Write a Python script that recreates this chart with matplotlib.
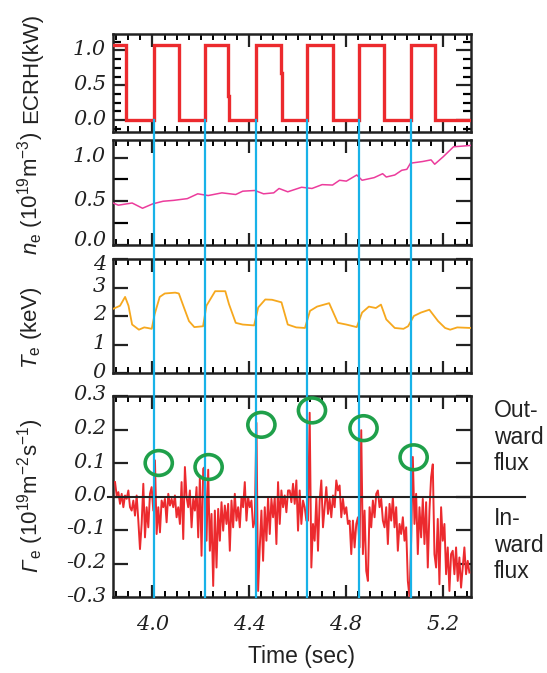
import numpy as np
import matplotlib
matplotlib.use("Agg")
import matplotlib.pyplot as plt
from matplotlib.ticker import MultipleLocator, FormatStrFormatter
from matplotlib.patches import Ellipse
from matplotlib.transforms import blended_transform_factory, ScaledTranslation

plt.rcParams['axes.unicode_minus'] = False
plt.rcParams['mathtext.fontset'] = 'custom'
plt.rcParams['mathtext.rm'] = 'Liberation Sans'
plt.rcParams['mathtext.it'] = 'Liberation Sans:italic'
plt.rcParams['mathtext.bf'] = 'Liberation Sans:bold'

# ---------------- data ----------------
ecrh_time = [3.837, 3.892, 3.892, 4.005, 4.005, 4.108, 4.108, 4.216, 4.216, 4.314,
             4.314, 4.318, 4.318, 4.428, 4.428, 4.532, 4.532, 4.535, 4.535, 4.640,
             4.640, 4.745, 4.745, 4.855, 4.855, 4.957, 4.957, 5.067, 5.067, 5.167,
             5.167, 5.316]
ecrh_power = [1.08, 1.08, 0, 0, 1.08, 1.08, 0, 0, 1.08, 1.08,
              0.35, 0.35, 0, 0, 1.08, 1.08, 0.68, 0.68, 0, 0,
              1.08, 1.08, 0, 0, 1.08, 1.08, 0, 0, 1.08, 1.08,
              0, 0]

ne_time = [3.837, 3.859, 3.916, 3.959, 4.001, 4.044, 4.087, 4.144, 4.187, 4.230,
           4.287, 4.344, 4.373, 4.423, 4.459, 4.501, 4.523, 4.559, 4.616, 4.659,
           4.701, 4.744, 4.773, 4.801, 4.844, 4.866, 4.916, 4.951, 4.966, 5.001,
           5.030, 5.051, 5.066, 5.116, 5.151, 5.166, 5.201, 5.244, 5.266, 5.315]
ne_value = [0.48, 0.455, 0.48, 0.42, 0.47, 0.50, 0.51, 0.53, 0.585, 0.565,
            0.596, 0.577, 0.615, 0.623, 0.585, 0.596, 0.646, 0.608, 0.66, 0.646,
            0.69, 0.685, 0.74, 0.73, 0.80, 0.74, 0.77, 0.815, 0.777, 0.80,
            0.854, 0.865, 0.935, 0.954, 0.973, 0.923, 1.008, 1.123, 1.127, 1.138]

te_time = [3.837, 3.866, 3.887, 3.901, 3.916, 3.944, 3.966, 3.980, 3.997, 4.009,
           4.030, 4.051, 4.094, 4.109, 4.130, 4.151, 4.173, 4.209, 4.223, 4.259,
           4.301, 4.316, 4.344, 4.373, 4.420, 4.437, 4.466, 4.494, 4.533, 4.559,
           4.594, 4.630, 4.651, 4.680, 4.730, 4.766, 4.801, 4.844, 4.866, 4.894,
           4.923, 4.944, 4.966, 5.001, 5.037, 5.056, 5.080, 5.109, 5.144, 5.180,
           5.209, 5.230, 5.259, 5.315]
te_value = [2.25, 2.36, 2.67, 2.36, 1.70, 1.52, 1.60, 1.58, 1.55, 2.06,
            2.67, 2.79, 2.82, 2.79, 2.30, 1.82, 1.61, 1.64, 2.36, 2.87,
            2.87, 2.42, 1.76, 1.70, 1.67, 2.30, 2.58, 2.57, 2.48, 1.70,
            1.60, 1.58, 2.18, 2.33, 2.45, 1.76, 1.70, 1.61, 2.12, 2.33,
            2.28, 2.40, 1.88, 1.58, 1.55, 1.64, 2.00, 2.12, 2.22, 1.82,
            1.58, 1.52, 1.60, 1.58]

gamma_start, gamma_end = 3.8454, 5.3093
gamma_value = [
    0.043, 0.003, 0.013, -0.022, 0.008, -0.032, 0.003, -0.007, 0.018, -0.032,
    -0.042, -0.012, -0.057, 0.003, -0.072, -0.157, -0.082, 0.038, -0.122, -0.032,
    -0.092, 0.008, 0.028, -0.042, 0.108, -0.112, -0.032, -0.107, -0.012, -0.032,
    -0.007, -0.077, 0.008, -0.027, -0.007, -0.032, 0.003, -0.062, -0.032, -0.082,
    0.043, -0.127, 0.088, -0.002, -0.032, 0.018, -0.092, -0.007, -0.042, 0.028,
    -0.122, 0.058, -0.177, 0.083, 0.088, -0.132, 0.080, -0.162, -0.052, -0.267,
    -0.042, -0.212, -0.037, -0.132, -0.017, -0.102, -0.027, -0.082, -0.022, -0.162,
    -0.012, -0.092, 0.008, -0.072, -0.032, -0.092, -0.002, -0.032, 0.043, -0.072,
    -0.002, -0.032, -0.012, -0.092, -0.072, 0.220, -0.282, -0.152, -0.042, -0.192,
    -0.032, -0.132, -0.002, -0.112, -0.007, -0.062, -0.002, -0.142, 0.043, -0.082,
    0.018, -0.032, 0.003, -0.047, 0.018,
    0.018, -0.017, 0.038, -0.022, 0.048, -0.102, 0.018, -0.082, -0.012, -0.032,
    -0.072, -0.072, 0.250, -0.212, -0.082, -0.132, -0.002, -0.162, -0.012, 0.048,
    -0.092, -0.032, 0.028, -0.052, -0.007, -0.062, 0.003, -0.032, 0.048, 0.018,
    0.033, -0.062, -0.007, -0.052, -0.032, -0.082, -0.072, -0.172, -0.072, -0.152,
    -0.082, -0.062, -0.152, 0.198, -0.172, -0.042, -0.222, -0.252, -0.032, -0.092,
    -0.012, -0.062, 0.008, 0.018, -0.032, -0.007, -0.072, -0.092, -0.032, -0.142,
    -0.022, -0.072, -0.002, -0.092, -0.032, -0.162, -0.082, -0.112, -0.062, -0.132,
    -0.092, -0.252, -0.300, -0.132, 0.118, -0.082, 0.008, -0.172, -0.032, -0.122,
    -0.007, -0.142, -0.017, -0.212, -0.042, 0.058, 0.096, -0.172, -0.212, -0.067,
    -0.262, -0.032, -0.132, -0.082, -0.232, -0.152, -0.282, -0.172, -0.162, -0.232,
    -0.152, -0.252, -0.182, -0.272, -0.212, -0.152, -0.232, -0.192, -0.227]
gamma_time = np.linspace(gamma_start, gamma_end, len(gamma_value))

marker_times = [4.005, 4.216, 4.428, 4.640, 4.855, 5.067]
circle_time = [4.026, 4.232, 4.450, 4.659, 4.872, 5.079]
circle_value = [0.100, 0.088, 0.214, 0.257, 0.204, 0.117]

xlim = (3.837, 5.316)
xticks_major = 0.4
xticks_minor = 0.05

# ---------------- style ----------------
RED = '#EC2A2E'
PINK = '#EC3C9C'
ORANGE = '#F6A81E'
BLUE = '#18B2E8'
GREEN = '#1FA04A'
INK = '#222222'

W, H = 547, 673
fig = plt.figure(figsize=(W / 100, H / 100), dpi=100)

def axpos(top, bottom, left=113, right=471):
    return [left / W, 1 - bottom / H, (right - left) / W, (bottom - top) / H]

ax1 = fig.add_axes(axpos(34, 132))
ax2 = fig.add_axes(axpos(140, 245))
ax3 = fig.add_axes(axpos(259, 373))
ax4 = fig.add_axes(axpos(396, 597))
axes = [ax1, ax2, ax3, ax4]

for ax in axes:
    ax.set_xlim(*xlim)
    ax.xaxis.set_major_locator(MultipleLocator(xticks_major))
    ax.xaxis.set_minor_locator(MultipleLocator(xticks_minor))
    ax.tick_params(axis='x', which='major', direction='in', top=True, bottom=True,
                   length=9, width=1.6, pad=13)
    ax.tick_params(axis='x', which='minor', direction='in', top=True, bottom=True,
                   length=4.5, width=1.4)
    ax.tick_params(axis='y', which='both', direction='in', left=True, right=True,
                   width=1.6, pad=5)
    ax.tick_params(axis='y', which='major', length=11)
    for s in ax.spines.values():
        s.set_linewidth(1.8)
        s.set_color(INK)
    ax.tick_params(colors=INK)
    if ax is not ax4:
        ax.tick_params(axis='x', labelbottom=False)

# Panel 1: ECRH
ax1.plot(ecrh_time, ecrh_power, color=RED, lw=2.4, solid_joinstyle='miter', zorder=3)
ax1.set_ylim(-0.17, 1.235)
ax1.yaxis.set_major_locator(MultipleLocator(0.5))
ax1.yaxis.set_minor_locator(MultipleLocator(0.125))
ax1.tick_params(axis='y', which='minor', length=5.5)
ax1.yaxis.set_major_formatter(FormatStrFormatter('%.1f'))

# Panel 2: density
ax2.plot(ne_time, ne_value, color=PINK, lw=1.1, zorder=3)
ax2.set_ylim(0, 1.2)
ax2.yaxis.set_major_locator(MultipleLocator(0.5))
ax2.yaxis.set_minor_locator(MultipleLocator(0.25))
ax2.tick_params(axis='y', which='minor', length=11, width=1.6)
ax2.yaxis.set_major_formatter(FormatStrFormatter('%.1f'))

# Panel 3: temperature
ax3.plot(te_time, te_value, color=ORANGE, lw=1.3, zorder=3)
ax3.set_ylim(0, 4)
ax3.yaxis.set_major_locator(MultipleLocator(1))
ax3.yaxis.set_major_formatter(FormatStrFormatter('%d'))

# Panel 4: flux
ax4.plot(gamma_time, gamma_value, color=RED, lw=1.4, zorder=3)
ax4.set_ylim(-0.3, 0.3)
ax4.yaxis.set_major_locator(MultipleLocator(0.1))
ax4.yaxis.set_major_formatter(FormatStrFormatter('%.1f'))
zero_tr = blended_transform_factory(ax4.transAxes, ax4.transData)
ax4.plot([-0.014, 1.151], [0, 0], color=INK, lw=1.5, transform=zero_tr,
         clip_on=False, zorder=4)
for t, v in zip(circle_time, circle_value):
    ax4.add_patch(Ellipse((t, v), width=0.112, height=0.074, fill=False,
                          edgecolor=GREEN, lw=2.6, zorder=6, clip_on=False))

# Tick label fonts (wide serif italic), y labels nudged slightly
def shift(px):
    return ScaledTranslation(0, px * 0.72 / 72, fig.dpi_scale_trans)

for ax in axes:
    ticks = ax.yaxis.get_major_ticks()
    lo, hi = ax.get_ylim()
    for tk, loc in zip(ticks, ax.yaxis.get_majorticklocs()):
        if ax is ax3 and abs(loc - hi) < 1e-9:
            dy = -4.0
        elif ax is ax2 and abs(loc - lo) < 1e-9:
            dy = 6.0
        else:
            dy = 3.0
        tk.label1.set_transform(tk.label1.get_transform() + shift(dy))
    for lab in ax.get_yticklabels() + ax.get_xticklabels():
        lab.set_fontfamily('DejaVu Serif')
        lab.set_fontstyle('italic')
        lab.set_fontsize(15)
        lab.set_color(INK)

# Blue marker lines spanning from ECRH zero level to bottom of flux panel
top_disp = ax1.transData.transform((xlim[0], 0.0))[1]
top_axes = ax4.transAxes.inverted().transform((0, top_disp))[1]
blue_tr = blended_transform_factory(ax4.transData, ax4.transAxes)
for t in marker_times:
    ax4.plot([t, t], [0, top_axes], color=BLUE, lw=1.6, transform=blue_tr,
             clip_on=False, zorder=5)

# Y labels (rotated, baseline aligned)
XB = 37 / W
lab_kw = dict(family='Liberation Sans', size=16, color=INK, rotation=90,
              rotation_mode='anchor', va='baseline')
fig.text(XB, 1 - 68 / H, 'ECRH(kW)', ha='center', **lab_kw)
fig.text(XB, 1 - 193 / H, r'$n_{\mathrm{e}}$ (10$^{19}$m$^{-3}$)', ha='center', **lab_kw)
fig.text(XB, 1 - 328 / H, r'$T_{\mathrm{e}}$ (keV)', ha='center', **lab_kw)

g_txt = fig.text(XB, 0, 'Γ', ha='left', style='italic', **lab_kw)
r_txt = fig.text(XB, 0, r'$_{\mathrm{e}}$ (10$^{19}$m$^{-2}$s$^{-1}$)', ha='left', **lab_kw)
renderer = fig.canvas.get_renderer()
lg = g_txt.get_window_extent(renderer).height + 0.5
lr = r_txt.get_window_extent(renderer).height
start = (H - 495) - (lg + lr) / 2
g_txt.set_position((XB, start / H))
r_txt.set_position((XB, (start + lg) / H))

fig.text(302 / W, 1 - 657 / H, 'Time (sec)', family='Liberation Sans', size=16.5,
         color=INK, ha='center', va='center')

side_kw = dict(family='Liberation Sans', size=16.5, color=INK,
               ha='left', va='center', linespacing=1.2)
fig.text(494 / W, 1 - 437 / H, 'Out-\nward\nflux', **side_kw)
fig.text(494 / W, 1 - 545 / H, 'In-\nward\nflux', **side_kw)

fig.savefig('out.png', dpi=100)
